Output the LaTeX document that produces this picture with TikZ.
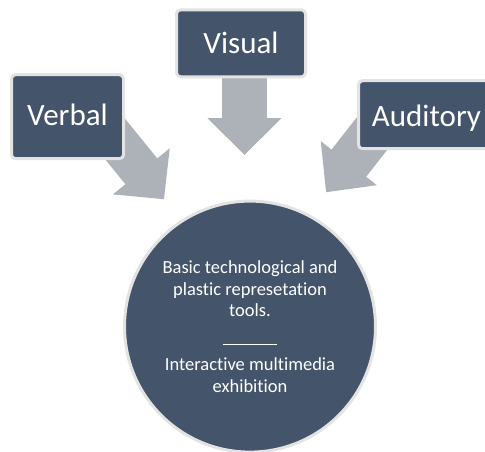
\documentclass[tikz,border=0pt]{standalone}
\usepackage{fontspec}
\setmainfont{Carlito}[Ligatures=NoCommon]
\usetikzlibrary{arrows.meta,backgrounds}
\definecolor{slate}{HTML}{44546A}
\definecolor{rimgrey}{HTML}{E3E3E3}
\definecolor{arrowgrey}{HTML}{ADB1B8}
\tikzset{
  sourcebox/.style={draw=rimgrey, line width=3pt, fill=slate, rounded corners=4pt,
    inner sep=0pt, text=white, font=\fontsize{31}{37}\selectfont, text depth=0pt},
  hub/.style={circle, draw=rimgrey, line width=3pt, fill=slate, minimum size=251pt,
    inner sep=0pt, text=white, align=center, font=\fontsize{18.5}{21.3}\selectfont},
  blockarrow/.style={draw=arrowgrey, line cap=butt}
}
\begin{document}
\begin{tikzpicture}[x=1pt,y=-1pt]
\useasboundingbox (0,0) rectangle (485,452);
% source boxes
\node[sourcebox, minimum width=129pt, minimum height=67pt, text height=20pt] (vis) at (241,43.3) {Visual};
\node[sourcebox, minimum width=112pt, minimum height=84pt, text height=18pt] (verb) at (67.5,116.7) {Verbal};
\node[sourcebox, minimum width=136pt, minimum height=68pt, text height=24pt] (aud) at (426.5,114.7) {Auditory};
% hub circle
\node[hub] (hubc) at (250,326.6) {Basic technological and\\ plastic represetation\\ tools.\\[7pt] \rule{54pt}{1.2pt}\\[4.8pt] Interactive multimedia\\ exhibition};
% arrow tips
\coordinate (vtip) at (244.5,155);
\coordinate (btip) at (164,199.3);
\coordinate (atip) at (326,192.3);
\begin{scope}[on background layer]
\draw[blockarrow, line width=45pt, -{Triangle[length=37pt,width=72pt]}] ([xshift=3.5pt]vis.center) -- (vtip);
\draw[blockarrow, line width=41pt, -{Triangle[length=36pt,width=71pt]}] ([xshift=33.5pt,yshift=-4.9pt]verb.center) -- (btip);
\draw[blockarrow, line width=44pt, -{Triangle[length=37pt,width=69pt]}] ([xshift=-38.8pt,yshift=1.1pt]aud.center) -- (atip);
\end{scope}
\end{tikzpicture}
\end{document}
